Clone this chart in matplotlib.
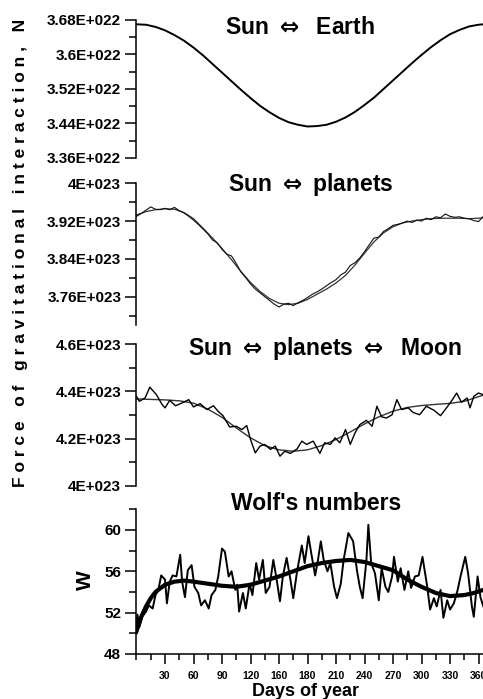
import numpy as np
import matplotlib
matplotlib.use("Agg")
import matplotlib.pyplot as plt
from matplotlib.ticker import FixedLocator, FuncFormatter, MultipleLocator

plt.rcParams['font.family'] = ['Liberation Sans', 'DejaVu Sans']
plt.rcParams['font.weight'] = 'bold'
plt.rcParams['mathtext.fontset'] = 'dejavusans'

# --- Sun <-> Earth force, units of 1E+022 N ---
earth_days = [0, 10, 20, 30, 40, 50, 60, 70, 80, 90, 100, 110, 120, 130, 140, 150, 160, 170, 180,
              190, 200, 210, 220, 230, 240, 250, 260, 270, 280, 290, 300, 310, 320, 330, 340, 350, 360, 365]
earth_force = [3.670, 3.669, 3.664, 3.656, 3.645, 3.632, 3.616, 3.598, 3.578, 3.558, 3.538, 3.518,
               3.499, 3.481, 3.466, 3.453, 3.443, 3.437, 3.433, 3.434, 3.437, 3.444, 3.454, 3.467,
               3.483, 3.500, 3.520, 3.540, 3.560, 3.580, 3.599, 3.617, 3.633, 3.647, 3.657, 3.665,
               3.669, 3.670]

# --- Sun <-> planets, units of 1E+023 N ---
planets_smooth_days = [0, 10, 20, 30, 40, 50, 60, 70, 80, 90, 100, 110, 120, 130, 140, 150, 160, 170,
                       180, 190, 200, 210, 220, 230, 240, 250, 260, 270, 280, 290, 300, 310, 320, 330,
                       340, 350, 360, 365]
planets_smooth = [3.933, 3.940, 3.944, 3.946, 3.945, 3.938, 3.925, 3.905, 3.884, 3.862, 3.838, 3.813,
                  3.790, 3.771, 3.756, 3.746, 3.743, 3.746, 3.754, 3.765, 3.776, 3.789, 3.805, 3.827,
                  3.852, 3.876, 3.895, 3.908, 3.916, 3.920, 3.923, 3.925, 3.926, 3.926, 3.926, 3.925,
                  3.926, 3.927]
planets_days = [0, 5, 10, 15, 20, 25, 30, 35, 40, 45, 50, 55, 60, 65, 70, 75, 80, 85, 90, 95, 100, 105,
                110, 115, 120, 125, 130, 135, 140, 145, 150, 155, 160, 165, 170, 175, 180, 185, 190,
                195, 200, 205, 210, 215, 220, 225, 230, 235, 240, 245, 250, 255, 260, 265, 270, 275,
                280, 285, 290, 295, 300, 305, 310, 315, 320, 325, 330, 335, 340, 345, 350, 355, 360, 365]
planets_force = [3.930, 3.936, 3.943, 3.950, 3.945, 3.944, 3.947, 3.944, 3.949, 3.942, 3.937, 3.930,
                 3.922, 3.913, 3.903, 3.893, 3.880, 3.874, 3.860, 3.850, 3.846, 3.830, 3.812, 3.800,
                 3.787, 3.776, 3.768, 3.760, 3.752, 3.744, 3.738, 3.744, 3.746, 3.741, 3.747, 3.752,
                 3.758, 3.765, 3.770, 3.776, 3.783, 3.790, 3.796, 3.806, 3.812, 3.826, 3.832, 3.842,
                 3.855, 3.870, 3.884, 3.886, 3.898, 3.904, 3.911, 3.913, 3.916, 3.920, 3.917, 3.922,
                 3.920, 3.926, 3.923, 3.929, 3.927, 3.935, 3.930, 3.928, 3.929, 3.926, 3.925, 3.921,
                 3.919, 3.930]

# --- Sun <-> planets <-> Moon, units of 1E+023 N ---
moon_smooth_days = [0, 15, 30, 45, 60, 75, 90, 105, 120, 135, 150, 165, 180, 195, 210, 225, 240,
                    255, 270, 285, 300, 315, 330, 345, 365]
moon_smooth = [4.368, 4.366, 4.364, 4.360, 4.350, 4.325, 4.290, 4.245, 4.203, 4.170, 4.152, 4.146,
               4.152, 4.170, 4.196, 4.228, 4.262, 4.292, 4.316, 4.332, 4.340, 4.345, 4.349, 4.358,
               4.384]
moon_days = [0, 3, 9, 14, 21, 27, 30, 35, 41, 48, 55, 60, 67, 74, 81, 86, 91, 98, 105, 111, 116, 120,
             125, 130, 135, 141, 146, 151, 156, 162, 169, 174, 179, 186, 193, 198, 204, 209, 214,
             220, 225, 230, 235, 242, 248, 253, 258, 263, 269, 274, 279, 286, 291, 298, 305, 313,
             320, 327, 332, 337, 342, 348, 351, 355, 360, 365]
moon_force = [4.379, 4.358, 4.372, 4.418, 4.386, 4.344, 4.330, 4.362, 4.339, 4.351, 4.365, 4.334,
              4.348, 4.323, 4.339, 4.315, 4.297, 4.249, 4.252, 4.238, 4.255, 4.196, 4.139, 4.168,
              4.175, 4.154, 4.168, 4.125, 4.146, 4.137, 4.156, 4.189, 4.175, 4.189, 4.137, 4.182,
              4.175, 4.203, 4.182, 4.238, 4.175, 4.224, 4.259, 4.277, 4.252, 4.337, 4.292, 4.287,
              4.301, 4.365, 4.323, 4.330, 4.311, 4.301, 4.337, 4.320, 4.297, 4.334, 4.362, 4.393,
              4.354, 4.372, 4.330, 4.379, 4.393, 4.386]

# --- Wolf's numbers ---
wolf_smooth_days = [0, 5, 10, 15, 20, 30, 40, 50, 60, 75, 90, 105, 120, 135, 150, 165, 180, 195,
                    210, 225, 240, 255, 270, 285, 300, 315, 330, 345, 355, 365]
wolf_smooth = [50.2, 51.6, 52.6, 53.4, 54.0, 54.7, 55.0, 55.1, 55.0, 54.8, 54.6, 54.5, 54.7, 55.1,
               55.5, 56.0, 56.5, 56.8, 57.0, 57.1, 56.9, 56.5, 56.1, 55.2, 54.5, 53.9, 53.6, 53.7,
               53.9, 54.2]
wolf_days = [0, 1, 3, 6, 10, 13, 17, 20, 23, 26, 30, 32, 35, 38, 42, 46, 48, 51, 54, 58, 61, 65, 68,
             72, 76, 79, 83, 86, 90, 93, 97, 100, 104, 106, 108, 112, 115, 119, 122, 126, 129, 133,
             136, 140, 144, 147, 151, 154, 158, 162, 165, 169, 174, 177, 181, 184, 188, 191, 194,
             197, 201, 204, 208, 211, 215, 218, 223, 228, 232, 235, 238, 242, 244, 247, 251, 255,
             258, 262, 265, 269, 271, 275, 278, 282, 286, 289, 293, 297, 301, 306, 309, 313, 316,
             320, 323, 327, 330, 334, 338, 341, 346, 349, 353, 355, 359, 362, 365]
wolf_numbers = [50.0, 51.8, 50.6, 51.6, 52.1, 52.7, 52.4, 53.7, 54.2, 55.6, 55.2, 52.9, 55.0, 55.6,
                55.5, 57.6, 55.0, 53.5, 56.1, 56.6, 54.5, 53.9, 52.7, 53.2, 52.4, 53.7, 54.2, 55.5,
                58.2, 57.9, 55.5, 56.0, 54.2, 54.7, 52.1, 53.9, 52.4, 54.8, 53.7, 56.8, 55.2, 57.1,
                53.9, 54.5, 57.1, 55.5, 53.1, 55.5, 57.3, 55.2, 53.4, 56.0, 58.5, 56.8, 59.4, 57.7,
                55.6, 57.1, 58.9, 57.1, 56.0, 56.8, 54.5, 53.4, 54.8, 57.1, 59.7, 58.9, 56.1, 54.5,
                53.4, 57.1, 60.5, 56.8, 55.8, 53.2, 56.3, 54.5, 54.0, 55.5, 57.4, 55.0, 56.3, 54.2,
                56.0, 54.4, 55.5, 55.6, 57.4, 54.5, 52.3, 53.4, 52.6, 54.2, 51.5, 53.2, 52.3, 52.9,
                54.2, 55.5, 57.4, 55.8, 52.6, 51.6, 55.5, 53.5, 52.6]

day_ticks = [30, 60, 90, 120, 150, 180, 210, 240, 270, 300, 330, 360]
day_labels = ['30', '60', '90', '120', '160', '180', '210', '240', '270', '300', '330', '360']

fig = plt.figure(figsize=(4.83, 6.99), dpi=100)

left, width = 0.2826, 0.72
ax1 = fig.add_axes([left, 0.7740, width, 0.1974])
ax2 = fig.add_axes([left, 0.5351, width, 0.2027])
ax3 = fig.add_axes([left, 0.3052, width, 0.2023])
ax4 = fig.add_axes([left, 0.0644, width, 0.2070])


def style_axis(ax, bottom=False):
    for side in ['top', 'right']:
        ax.spines[side].set_visible(False)
    ax.spines['left'].set_linewidth(1.1)
    if bottom:
        ax.spines['bottom'].set_linewidth(1.1)
    else:
        ax.spines['bottom'].set_visible(False)
        ax.tick_params(axis='x', which='both', bottom=False, labelbottom=False)
    ax.set_xlim(0, 366)
    ax.tick_params(axis='y', which='major', direction='out', length=8, width=1.1,
                   labelsize=11, pad=3)
    ax.tick_params(axis='y', which='minor', direction='out', length=5, width=1.1)
    ax.patch.set_alpha(0)


def exp_fmt(suffix):
    return FuncFormatter(lambda v, pos: f"{v:g}E+{suffix}")


# Sun <-> Earth
ax1.plot(earth_days, earth_force, color='black', lw=1.4)
ax1.set_ylim(3.36, 3.68)
ax1.yaxis.set_major_locator(FixedLocator([3.36, 3.44, 3.52, 3.60, 3.68]))
ax1.yaxis.set_minor_locator(FixedLocator([3.40, 3.48, 3.56, 3.64]))
ax1.yaxis.set_major_formatter(exp_fmt('022'))
style_axis(ax1)

# Sun <-> planets
ax2.plot(planets_smooth_days, planets_smooth, color='#333333', lw=0.9)
ax2.plot(planets_days, planets_force, color='#111111', lw=0.8)
ax2.set_ylim(3.70, 4.00)
ax2.yaxis.set_major_locator(FixedLocator([3.76, 3.84, 3.92, 4.00]))
ax2.yaxis.set_minor_locator(FixedLocator([3.72, 3.80, 3.88, 3.96]))
ax2.yaxis.set_major_formatter(exp_fmt('023'))
style_axis(ax2)

# Sun <-> planets <-> Moon
ax3.plot(moon_smooth_days, moon_smooth, color='#333333', lw=1.0)
ax3.plot(moon_days, moon_force, color='black', lw=1.0)
ax3.set_ylim(4.0, 4.6)
ax3.yaxis.set_major_locator(FixedLocator([4.0, 4.2, 4.4, 4.6]))
ax3.yaxis.set_minor_locator(FixedLocator([4.1, 4.3, 4.5]))
ax3.yaxis.set_major_formatter(exp_fmt('023'))
style_axis(ax3)

# Wolf's numbers
ax4.plot(wolf_days, wolf_numbers, color='black', lw=1.4)
ax4.plot(wolf_smooth_days, wolf_smooth, color='black', lw=3.0)
ax4.set_ylim(48, 62)
ax4.yaxis.set_major_locator(FixedLocator([48, 52, 56, 60]))
ax4.yaxis.set_minor_locator(FixedLocator([50, 54, 58, 62]))
style_axis(ax4, bottom=True)
ax4.xaxis.set_major_locator(FixedLocator(day_ticks))
ax4.xaxis.set_minor_locator(MultipleLocator(15))
ax4.set_xticklabels(day_labels)
ax4.tick_params(axis='x', which='major', direction='out', length=7, width=1.1,
                labelsize=7.5, pad=5)
ax4.tick_params(axis='x', which='minor', direction='out', length=4, width=1.1)
ax4.set_xlim(0, 366)

# panel captions
W, H = 483.0, 699.0
arrow = r"$\Leftrightarrow$"
fig.text(300 / W, 1 - 34 / H, f"Sun {arrow}  Earth", fontsize=16.5, ha='center', va='baseline')
fig.text(311 / W, 1 - 191 / H, f"Sun {arrow} planets", fontsize=16.5, ha='center', va='baseline')
fig.text(325 / W, 1 - 355 / H, f"Sun {arrow} planets {arrow}  Moon", fontsize=16.5,
         ha='center', va='baseline')
fig.text(316 / W, 1 - 510 / H, "Wolf's numbers", fontsize=16.5, ha='center', va='baseline')

ylab = " ".join("Force of gravitational interaction, N")
fig.text(21 / W, 1 - 253 / H, ylab, fontsize=12.5, rotation=90, ha='center', va='center')
fig.text(85 / W, 1 - 580 / H, "W", fontsize=15, rotation=90, ha='center', va='center')
fig.text(306 / W, 1 - 696 / H, "Days of year", fontsize=13, ha='center', va='baseline')

fig.savefig("out.png", dpi=100)
